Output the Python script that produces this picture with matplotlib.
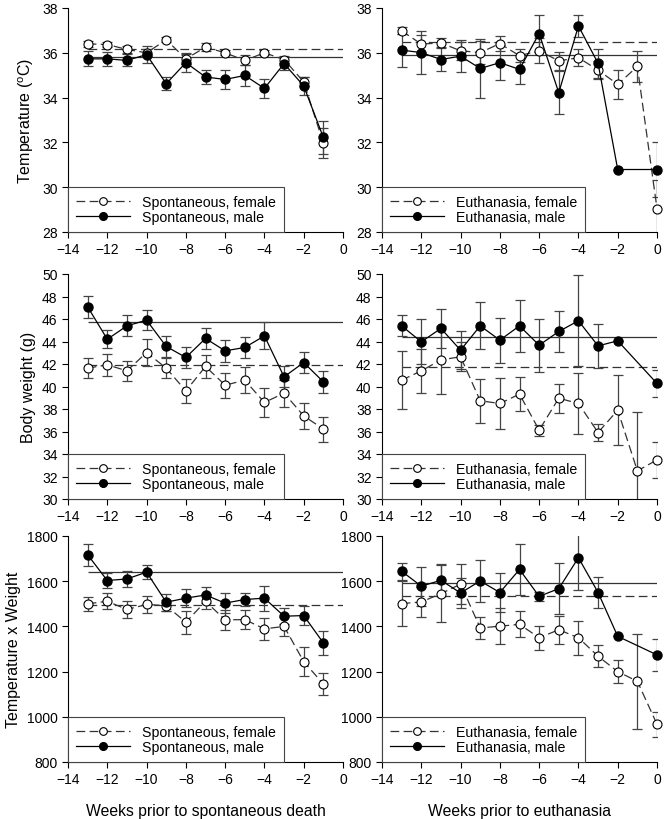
import matplotlib
matplotlib.use('Agg')
import matplotlib.pyplot as plt
import numpy as np

plt.rcParams['font.family'] = ['Liberation Sans', 'DejaVu Sans']
plt.rcParams['mathtext.fontset'] = 'custom'
plt.rcParams['mathtext.rm'] = 'Liberation Sans'

weeks_sp = [-13, -12, -11, -10, -9, -8, -7, -6, -5, -4, -3, -2, -1]
weeks_eu_f = [-13, -12, -11, -10, -9, -8, -7, -6, -5, -4, -3, -2, -1, 0]
weeks_eu_m = [-13, -12, -11, -10, -9, -8, -7, -6, -5, -4, -3, -2, 0]

# temperature
sp_temp_f = [36.40, 36.37, 36.15, 36.00, 36.58, 35.73, 36.25, 36.00, 35.66, 36.00, 35.70, 34.70, 31.97]
sp_temp_f_err = [0.12, 0.12, 0.15, 0.15, 0.12, 0.25, 0.17, 0.12, 0.22, 0.12, 0.15, 0.20, 0.66]
sp_temp_m = [35.73, 35.73, 35.66, 35.92, 34.62, 35.56, 34.92, 34.81, 34.99, 34.41, 35.52, 34.52, 32.22]
sp_temp_m_err = [0.33, 0.30, 0.27, 0.37, 0.28, 0.40, 0.31, 0.43, 0.48, 0.41, 0.30, 0.40, 0.74]
sp_temp_means = [36.19, 35.81]

eu_temp_f = [36.98, 36.39, 36.44, 36.09, 36.01, 36.41, 35.87, 36.09, 35.64, 35.78, 35.23, 34.59, 35.39, 29.04]
eu_temp_f_err = [0.15, 0.40, 0.20, 0.40, 0.50, 0.35, 0.30, 0.55, 0.40, 0.38, 0.40, 0.65, 0.70, 1.28]
eu_temp_m = [36.12, 36.01, 35.70, 35.85, 35.30, 35.56, 35.26, 36.86, 34.22, 37.20, 35.53, 30.79, 30.79]
eu_temp_m_err = [0.74, 0.95, 0.50, 0.70, 1.30, 0.77, 0.65, 0.84, 0.96, 0.50, 0.65, 0.0, 1.23]
eu_temp_means = [36.49, 35.90]

# body weight
sp_bw_f = [41.63, 41.93, 41.39, 43.02, 41.63, 39.61, 41.78, 40.12, 40.56, 38.58, 39.41, 37.39, 36.21]
sp_bw_f_err = [0.87, 0.96, 0.89, 1.2, 0.9, 1.1, 1.0, 1.1, 1.15, 1.25, 1.2, 1.15, 1.1]
sp_bw_m = [47.08, 44.2, 45.39, 45.9, 43.56, 42.58, 44.27, 43.17, 43.47, 44.5, 40.86, 42.13, 40.41]
sp_bw_m_err = [1.0, 0.78, 0.93, 0.86, 0.9, 0.93, 0.92, 0.95, 0.92, 1.2, 0.92, 0.95, 1.0]
sp_bw_means = [41.93, 45.69]

eu_bw_f = [40.56, 41.39, 42.37, 42.64, 38.73, 38.49, 39.32, 36.12, 38.96, 38.49, 35.91, 37.9, 32.5, 33.48]
eu_bw_f_err = [2.6, 1.95, 3.0, 1.3, 1.95, 2.3, 1.5, 0.5, 1.3, 2.7, 0.75, 3.1, 5.2, 1.6]
eu_bw_m = [45.39, 43.97, 45.16, 43.23, 45.39, 44.12, 45.39, 43.67, 44.89, 45.84, 43.61, 44.06, 40.27]
eu_bw_m_err = [0.93, 2.0, 1.75, 1.7, 2.1, 2.0, 2.3, 2.35, 1.8, 4.05, 1.95, 0.0, 1.2]
eu_bw_means = [41.75, 44.41]

# temperature x weight
sp_tw_f = [1500, 1511, 1475, 1497, 1492, 1418, 1511, 1429, 1430, 1389, 1400, 1244, 1145]
sp_tw_f_err = [32, 35, 37, 37, 26, 50, 33, 44, 42, 48, 42, 64, 50]
sp_tw_m = [1717, 1603, 1610, 1640, 1507, 1525, 1539, 1503, 1519, 1525, 1445, 1448, 1327]
sp_tw_m_err = [48, 33, 37, 31, 38, 40, 35, 43, 27, 55, 35, 43, 52]
sp_tw_means = [1495, 1640]

eu_tw_f = [1501, 1508, 1545, 1587, 1393, 1401, 1409, 1350, 1385, 1350, 1268, 1200, 1157, 967]
eu_tw_f_err = [100, 65, 125, 90, 50, 80, 57, 53, 63, 75, 48, 52, 210, 55]
eu_tw_m = [1644, 1578, 1604, 1548, 1601, 1550, 1652, 1533, 1567, 1704, 1550, 1356, 1274]
eu_tw_m_err = [38, 86, 70, 65, 93, 85, 111, 20, 114, 143, 67, 0, 70]
eu_tw_means = [1533, 1594]

DASH = (0, (7, 3.5))


def panel(ax, xf, yf, ef, xm, ym, em, means, labels, ylim, yticks):
    ax.hlines(means[0], -13, 0, colors='#333333', linestyles=DASH, lw=0.9, zorder=1)
    ax.hlines(means[1], -13, 0, colors='#333333', linestyles='-', lw=0.9, zorder=1)
    ax.errorbar(xf, yf, yerr=ef, fmt='none', ecolor='#444444', elinewidth=0.9,
                capsize=3.5, capthick=0.9, zorder=2)
    ax.errorbar(xm, ym, yerr=em, fmt='none', ecolor='#444444', elinewidth=0.9,
                capsize=3.5, capthick=0.9, zorder=2)
    ax.plot(xf, yf, color='#333333', ls=DASH, lw=0.9, marker='o', ms=6.5,
            mfc='white', mec='black', mew=0.8, label=labels[0], zorder=3, clip_on=False)
    ax.plot(xm, ym, color='black', ls='-', lw=0.9, marker='o', ms=6.5,
            mfc='black', mec='black', label=labels[1], zorder=4, clip_on=False)
    ax.set_xlim(-14, 0)
    ax.set_ylim(*ylim)
    ax.set_xticks(range(-14, 1, 2))
    ax.set_yticks(yticks)
    for s in ['top', 'right']:
        ax.spines[s].set_visible(False)
    ax.tick_params(direction='out', length=4, width=0.8, labelsize=10)
    leg = ax.legend(loc='lower left', bbox_to_anchor=(0, 0), borderaxespad=0,
                    fancybox=False, framealpha=1, edgecolor='#444444',
                    fontsize=10.2, handlelength=3.8, borderpad=0.55, labelspacing=0.1,
                    handletextpad=0.9, markerscale=0.85)
    leg.get_frame().set_linewidth(0.8)
    leg.set_zorder(10)


fig = plt.figure(figsize=(6.72, 8.2), dpi=100)

lefts = [68 / 672, 382 / 672]
width = 275 / 672
rows = [(9, 233), (275, 500), (537, 763)]
axes = []
for top, bottom in rows:
    row = []
    for l in lefts:
        row.append(fig.add_axes([l, 1 - bottom / 820, width, (bottom - top) / 820]))
    axes.append(row)

panel(axes[0][0], weeks_sp, sp_temp_f, sp_temp_f_err, weeks_sp, sp_temp_m, sp_temp_m_err,
      sp_temp_means, ['Spontaneous, female', 'Spontaneous, male'], (28, 38), range(28, 39, 2))
panel(axes[0][1], weeks_eu_f, eu_temp_f, eu_temp_f_err, weeks_eu_m, eu_temp_m, eu_temp_m_err,
      eu_temp_means, ['Euthanasia, female', 'Euthanasia, male'], (28, 38), range(28, 39, 2))
panel(axes[1][0], weeks_sp, sp_bw_f, sp_bw_f_err, weeks_sp, sp_bw_m, sp_bw_m_err,
      sp_bw_means, ['Spontaneous, female', 'Spontaneous, male'], (30, 50), range(30, 51, 2))
panel(axes[1][1], weeks_eu_f, eu_bw_f, eu_bw_f_err, weeks_eu_m, eu_bw_m, eu_bw_m_err,
      eu_bw_means, ['Euthanasia, female', 'Euthanasia, male'], (30, 50), range(30, 51, 2))
panel(axes[2][0], weeks_sp, sp_tw_f, sp_tw_f_err, weeks_sp, sp_tw_m, sp_tw_m_err,
      sp_tw_means, ['Spontaneous, female', 'Spontaneous, male'], (800, 1800), range(800, 1801, 200))
panel(axes[2][1], weeks_eu_f, eu_tw_f, eu_tw_f_err, weeks_eu_m, eu_tw_m, eu_tw_m_err,
      eu_tw_means, ['Euthanasia, female', 'Euthanasia, male'], (800, 1800), range(800, 1801, 200))

axes[0][0].set_ylabel('Temperature ($\\mathregular{^o}$C)', fontsize=11.5)
axes[1][0].set_ylabel('Body weight (g)', fontsize=11.5)
axes[2][0].set_ylabel('Temperature x Weight', fontsize=11.5)
axes[2][0].set_xlabel('Weeks prior to spontaneous death', fontsize=11.3, labelpad=12)
axes[2][1].set_xlabel('Weeks prior to euthanasia', fontsize=11.3, labelpad=12)

plt.savefig('out.png', dpi=100)
